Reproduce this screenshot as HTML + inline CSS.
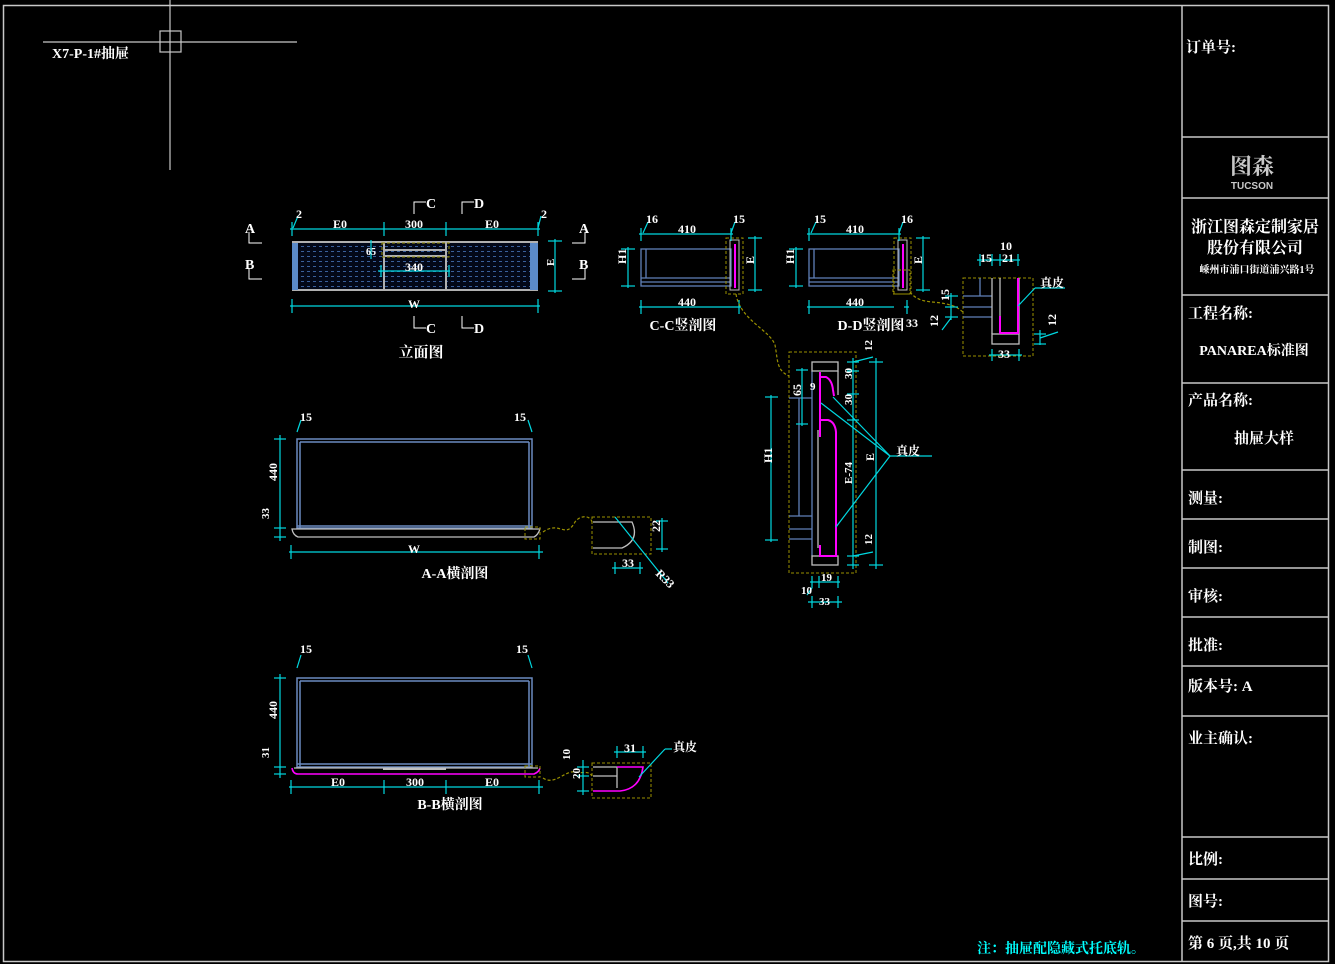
<!DOCTYPE html>
<html><head><meta charset="utf-8">
<style>
html,body{margin:0;padding:0;background:#000;}
svg{display:block}
text{font-family:"Liberation Serif","Noto Serif CJK SC",serif;font-weight:bold;fill:#fff}
.d{font-size:12px}
.c{fill:#00ffff}
</style></head><body>
<svg width="1335" height="964" viewBox="0 0 1335 964" xmlns="http://www.w3.org/2000/svg">
<rect width="1335" height="964" fill="#000"/>
<rect x="3.5" y="5.5" width="1325" height="956" fill="none" stroke="#c8c8c8" stroke-width="1.5"/>
<line x1="1182" y1="5" x2="1182" y2="961" stroke="#c8c8c8" stroke-width="1.5"/>
<g stroke="#c8c8c8" stroke-width="1.5">
<line x1="1182" y1="137" x2="1329" y2="137"/><line x1="1182" y1="198" x2="1329" y2="198"/>
<line x1="1182" y1="295" x2="1329" y2="295"/><line x1="1182" y1="383" x2="1329" y2="383"/>
<line x1="1182" y1="470" x2="1329" y2="470"/><line x1="1182" y1="519" x2="1329" y2="519"/>
<line x1="1182" y1="568" x2="1329" y2="568"/><line x1="1182" y1="617" x2="1329" y2="617"/>
<line x1="1182" y1="666" x2="1329" y2="666"/><line x1="1182" y1="716" x2="1329" y2="716"/>
<line x1="1182" y1="837" x2="1329" y2="837"/><line x1="1182" y1="879" x2="1329" y2="879"/>
<line x1="1182" y1="921" x2="1329" y2="921"/>
</g>
<g font-size="15">
<text x="1186" y="52">订单号:</text>
<text x="1252" y="174" text-anchor="middle" font-size="22" style="fill:#c8c8c8">图森</text>
<text x="1252" y="189" text-anchor="middle" font-size="10" style="fill:#c8c8c8;font-family:'Liberation Sans',sans-serif">TUCSON</text>
<text x="1255" y="232" text-anchor="middle" font-size="16">浙江图森定制家居</text>
<text x="1255" y="253" text-anchor="middle" font-size="16">股份有限公司</text>
<text x="1257" y="273" text-anchor="middle" font-size="10">嵊州市浦口街道浦兴路1号</text>
<text x="1188" y="318">工程名称:</text>
<text x="1254" y="355" text-anchor="middle" font-size="14">PANAREA标准图</text>
<text x="1188" y="405">产品名称:</text>
<text x="1264" y="443" text-anchor="middle">抽屉大样</text>
<text x="1188" y="503">测量:</text>
<text x="1188" y="552">制图:</text>
<text x="1188" y="601">审核:</text>
<text x="1188" y="650">批准:</text>
<text x="1188" y="691">版本号: A</text>
<text x="1188" y="743">业主确认:</text>
<text x="1188" y="864">比例:</text>
<text x="1188" y="906">图号:</text>
<text x="1188" y="948">第 6 页,共 10 页</text>
</g>
<text x="977" y="953" font-size="14" class="c">注：抽屉配隐藏式托底轨。</text>
<g stroke="#c8c8c8" stroke-width="1.2" fill="none">
<line x1="170" y1="0" x2="170" y2="170"/><line x1="43" y1="42" x2="297" y2="42"/>
<rect x="160" y="31" width="21" height="21"/>
</g>
<text x="52" y="58" font-size="14">X7-P-1#抽屉</text>

<defs>
<pattern id="dots" width="6" height="5" patternUnits="userSpaceOnUse">
<rect width="6" height="5" fill="#030818"/>
<rect x="1" y="1" width="3" height="1" fill="#3a5f9a"/>
</pattern>
</defs>

<rect x="292" y="241" width="246" height="50" fill="url(#dots)"/>
<g stroke="#b0b0b0" stroke-width="2" fill="none">
<line x1="292" y1="242" x2="538" y2="242"/><line x1="292" y1="290" x2="538" y2="290"/>
<line x1="384" y1="242" x2="384" y2="290"/><line x1="446" y1="242" x2="446" y2="290"/>
<line x1="384" y1="250" x2="446" y2="250"/><line x1="384" y1="256" x2="446" y2="256"/>
</g>
<rect x="292" y="243" width="6" height="47" fill="#5b8ac8"/>
<rect x="530" y="243" width="8" height="47" fill="#5b8ac8"/>
<rect x="382" y="243" width="67" height="14" fill="none" stroke="#9a9000" stroke-dasharray="3,2"/>
<g stroke="#00d8e0" stroke-width="1.2" fill="none">
<line x1="290" y1="229" x2="540" y2="229"/>
<line x1="292" y1="222" x2="292" y2="236"/><line x1="384" y1="222" x2="384" y2="236"/>
<line x1="446" y1="222" x2="446" y2="236"/><line x1="538" y1="222" x2="538" y2="236"/>
<line x1="290" y1="306" x2="540" y2="306"/><line x1="292" y1="299" x2="292" y2="313"/><line x1="538" y1="299" x2="538" y2="313"/>
<line x1="555" y1="239" x2="555" y2="293"/><line x1="548" y1="241" x2="562" y2="241"/><line x1="548" y1="291" x2="562" y2="291"/>
<line x1="378" y1="271" x2="450" y2="271"/><line x1="381" y1="265" x2="381" y2="277"/><line x1="449" y1="265" x2="449" y2="277"/>
<line x1="371" y1="240" x2="371" y2="259"/>
<line x1="293" y1="228" x2="298" y2="216"/><line x1="538" y1="228" x2="541" y2="216"/>
</g>
<g class="d">
<text x="296" y="218">2</text><text x="541" y="218">2</text>
<text x="340" y="228" text-anchor="middle">E0</text><text x="414" y="228" text-anchor="middle">300</text><text x="492" y="228" text-anchor="middle">E0</text>
<text x="414" y="271" text-anchor="middle">340</text>
<text x="414" y="308" text-anchor="middle">W</text>
<text x="366" y="255" font-size="10">65</text>
<text x="550" y="270" font-size="11" transform="rotate(-90 550 266)">E</text>
</g>
<g stroke="#fff" stroke-width="1" fill="none">
<polyline points="249,232 249,243 262,243"/><polyline points="249,268 249,279 262,279"/>
<polyline points="585,232 585,243 572,243"/><polyline points="585,268 585,279 572,279"/>
<polyline points="426,202 414,202 414,214"/><polyline points="474,202 462,202 462,214"/>
<polyline points="414,316 414,328 426,328"/><polyline points="462,316 462,328 474,328"/>
</g>
<g font-size="14">
<text x="245" y="233">A</text><text x="245" y="269">B</text>
<text x="579" y="233">A</text><text x="579" y="269">B</text>
<text x="426" y="208">C</text><text x="474" y="208">D</text>
<text x="426" y="333">C</text><text x="474" y="333">D</text>
<text x="421" y="357" text-anchor="middle" font-size="15">立面图</text>
</g>

<g id="cc">
<g stroke="#6080b8" stroke-width="1.3" fill="none">
<rect x="641" y="249" width="90" height="37"/>
<line x1="646" y1="249" x2="646" y2="278"/>
<line x1="641" y1="278" x2="731" y2="278"/><line x1="641" y1="282" x2="731" y2="282"/>
</g>
<rect x="730" y="240" width="9" height="50" fill="none" stroke="#c0c0c0"/>
<line x1="735" y1="244" x2="735" y2="288" stroke="#ff00ff" stroke-width="2"/>
<rect x="726" y="238" width="17" height="56" fill="none" stroke="#9a9000" stroke-dasharray="3,2"/>
<g stroke="#00d8e0" stroke-width="1.2" fill="none">
<line x1="639" y1="234" x2="733" y2="234"/><line x1="641" y1="228" x2="641" y2="241"/><line x1="731" y1="228" x2="731" y2="241"/>
<line x1="639" y1="307" x2="741" y2="307"/><line x1="641" y1="300" x2="641" y2="314"/><line x1="739" y1="300" x2="739" y2="314"/>
<line x1="628" y1="247" x2="628" y2="288"/><line x1="621" y1="249" x2="635" y2="249"/><line x1="621" y1="286" x2="635" y2="286"/>
<line x1="755" y1="236" x2="755" y2="292"/><line x1="748" y1="238" x2="762" y2="238"/><line x1="748" y1="290" x2="762" y2="290"/>
<line x1="643" y1="233" x2="648" y2="222"/><line x1="731" y1="233" x2="735" y2="222"/>
</g>
</g>
<use href="#cc" x="168" y="0"/>
<g class="d">
<text x="646" y="223">16</text><text x="733" y="223">15</text><text x="687" y="233" text-anchor="middle">410</text>
<text x="687" y="306" text-anchor="middle">440</text>
<text x="814" y="223">15</text><text x="901" y="223">16</text><text x="855" y="233" text-anchor="middle">410</text>
<text x="855" y="306" text-anchor="middle">440</text>
<text x="626" y="272" transform="rotate(-90 622 268)">H1</text>
<text x="794" y="272" transform="rotate(-90 790 268)">H1</text>
<text x="754" y="272" transform="rotate(-90 750 268)">E</text>
<text x="922" y="272" transform="rotate(-90 918 268)">E</text>
<text x="906" y="327">33</text>
</g>
<text x="683" y="330" text-anchor="middle" font-size="14">C-C竖剖图</text>
<text x="871" y="330" text-anchor="middle" font-size="14">D-D竖剖图</text>
<rect x="894" y="303" width="10" height="12" fill="#000"/>
<rect x="893" y="270" width="17" height="24" fill="none" stroke="#9a9000" stroke-dasharray="3,2"/>
<g stroke="#9a9000" stroke-dasharray="3,2" fill="none" stroke-width="1.2">
<path d="M736,294 C740,320 770,330 775,345 C778,360 776,370 789,376"/>
<path d="M910,292 C920,305 935,300 950,305 C958,307 960,310 963,312"/>
<path d="M543,532 C560,520 565,540 575,522 C580,515 590,515 592,522"/>
<path d="M543,778 C555,786 565,770 575,772 C583,774 588,770 592,776"/>
</g>

<rect x="963" y="278" width="70" height="78" fill="none" stroke="#9a9000" stroke-dasharray="3,2"/>
<g stroke="#6080b8" stroke-width="1.3"><line x1="980" y1="278" x2="980" y2="296"/>
<line x1="963" y1="296" x2="992" y2="296"/><line x1="963" y1="307" x2="992" y2="307"/><line x1="963" y1="317" x2="992" y2="317"/></g>
<g stroke="#c0c0c0" stroke-width="1.3" fill="none"><line x1="992" y1="278" x2="992" y2="334"/><line x1="1019" y1="278" x2="1019" y2="334"/>
<line x1="1000" y1="278" x2="1000" y2="318"/><rect x="992" y="334" width="27" height="10"/></g>
<polyline points="1000,316 1000,333 1018,333 1018,278" fill="none" stroke="#ff00ff" stroke-width="2"/>
<g stroke="#00d8e0" stroke-width="1.2" fill="none">
<line x1="977" y1="260" x2="1020" y2="260"/><line x1="980" y1="254" x2="980" y2="266"/><line x1="992" y1="254" x2="992" y2="266"/><line x1="1000" y1="254" x2="1000" y2="266"/><line x1="1018" y1="254" x2="1018" y2="266"/>
<line x1="989" y1="355" x2="1022" y2="355"/><line x1="992" y1="349" x2="992" y2="361"/><line x1="1019" y1="349" x2="1019" y2="361"/>
<line x1="1018" y1="306" x2="1035" y2="288"/><line x1="1035" y1="288" x2="1065" y2="288"/>
<line x1="951" y1="293" x2="951" y2="320"/><line x1="945" y1="296" x2="958" y2="296"/><line x1="945" y1="307" x2="958" y2="307"/><line x1="945" y1="317" x2="958" y2="317"/>
<line x1="951" y1="318" x2="942" y2="330"/>
<line x1="1040" y1="330" x2="1040" y2="345"/><line x1="1034" y1="334" x2="1046" y2="334"/><line x1="1034" y1="344" x2="1046" y2="344"/><line x1="1040" y1="338" x2="1058" y2="332"/>
</g>
<g class="d">
<text x="1000" y="250">10</text><text x="980" y="262">15</text><text x="1002" y="262">21</text>
<text x="998" y="358">33</text>
<text x="945" y="305" transform="rotate(-90 945 301)">15</text>
<text x="938" y="335" transform="rotate(-90 934 331)">12</text>
<text x="1056" y="334" transform="rotate(-90 1052 330)">12</text>
</g>
<text x="1040" y="287" font-size="12">真皮</text>

<rect x="789" y="352" width="67" height="221" fill="none" stroke="#9a9000" stroke-dasharray="3,2"/>
<g stroke="#6080b8" stroke-width="1.3" fill="none">
<line x1="812" y1="371" x2="812" y2="556"/><line x1="799" y1="398" x2="799" y2="516"/>
<line x1="789" y1="398" x2="812" y2="398"/><line x1="789" y1="516" x2="812" y2="516"/>
<line x1="789" y1="529" x2="812" y2="529"/><line x1="789" y1="539" x2="812" y2="539"/>
</g>
<g stroke="#c0c0c0" stroke-width="1.3" fill="none">
<rect x="812" y="362" width="26" height="9"/><rect x="812" y="556" width="26" height="9"/>
<line x1="838" y1="371" x2="838" y2="395"/><line x1="818" y1="430" x2="818" y2="548"/>
</g>
<g stroke="#ff00ff" stroke-width="2" fill="none">
<path d="M820,372 L820,437"/><path d="M820,377 L826,377 Q832,380 833,390 L834,396"/>
<path d="M820,437 L820,420 L828,420 Q835,422 836,432 L836,556 L820,556 L820,545"/>
</g>
<g stroke="#00d8e0" stroke-width="1.2" fill="none">
<line x1="771" y1="395" x2="771" y2="542"/><line x1="765" y1="397" x2="778" y2="397"/><line x1="765" y1="540" x2="778" y2="540"/>
<line x1="802" y1="368" x2="802" y2="426"/><line x1="796" y1="370" x2="808" y2="370"/><line x1="796" y1="424" x2="808" y2="424"/>
<line x1="853" y1="358" x2="853" y2="569"/>
<line x1="847" y1="362" x2="859" y2="362"/><line x1="847" y1="371" x2="859" y2="371"/><line x1="847" y1="394" x2="859" y2="394"/>
<line x1="847" y1="420" x2="859" y2="420"/><line x1="847" y1="556" x2="859" y2="556"/><line x1="847" y1="565" x2="859" y2="565"/>
<line x1="876" y1="358" x2="876" y2="569"/><line x1="869" y1="362" x2="883" y2="362"/><line x1="869" y1="565" x2="883" y2="565"/>
<line x1="853" y1="362" x2="873" y2="357"/><line x1="853" y1="556" x2="873" y2="552"/>
<line x1="833" y1="397" x2="890" y2="456"/><line x1="821" y1="403" x2="890" y2="456"/><line x1="836" y1="527" x2="890" y2="456"/>
<line x1="890" y1="456" x2="932" y2="456"/>
<line x1="810" y1="582" x2="840" y2="582"/><line x1="812" y1="576" x2="812" y2="588"/><line x1="819" y1="576" x2="819" y2="588"/><line x1="838" y1="576" x2="838" y2="588"/>
<line x1="808" y1="602" x2="842" y2="602"/><line x1="812" y1="596" x2="812" y2="608"/><line x1="838" y1="596" x2="838" y2="608"/>
<line x1="812" y1="588" x2="807" y2="595"/>
</g>
<g class="d">
<text x="772" y="471" transform="rotate(-90 768 467)">H1</text>
<text x="801" y="404" transform="rotate(-90 797 400)">65</text>
<text x="810" y="390" font-size="11">9</text>
<text x="852" y="387" transform="rotate(-90 848 383)" font-size="11">30</text>
<text x="852" y="413" transform="rotate(-90 848 409)" font-size="11">30</text>
<text x="852" y="492" transform="rotate(-90 848 488)" font-size="11">E-74</text>
<text x="874" y="469" transform="rotate(-90 870 465)">E</text>
<text x="872" y="359" transform="rotate(-90 868 355)" font-size="11">12</text>
<text x="872" y="553" transform="rotate(-90 868 549)" font-size="11">12</text>
<text x="821" y="581" font-size="11">19</text>
<text x="801" y="594" font-size="11">10</text>
<text x="819" y="605" font-size="11">33</text>
</g>
<text x="896" y="455" font-size="12">真皮</text>

<g stroke="#6a8ac0" stroke-width="1.5" fill="none">
<rect x="297" y="439" width="235" height="89"/>
<line x1="300" y1="442" x2="529" y2="442"/><line x1="300" y1="442" x2="300" y2="528"/><line x1="529" y1="442" x2="529" y2="528"/>
<line x1="297" y1="526" x2="532" y2="526"/>
</g>
<path d="M292,529 L540,529 Q538,535 534,537 L298,537 Q293,535 292,529 Z" fill="none" stroke="#c0c0c0" stroke-width="1.3"/>
<rect x="525" y="527" width="15" height="12" fill="none" stroke="#9a9000" stroke-dasharray="3,2"/>
<g stroke="#00d8e0" stroke-width="1.2" fill="none">
<line x1="280" y1="435" x2="280" y2="541"/><line x1="274" y1="439" x2="286" y2="439"/><line x1="274" y1="528" x2="286" y2="528"/><line x1="274" y1="537" x2="286" y2="537"/>
<line x1="289" y1="552" x2="543" y2="552"/><line x1="291" y1="545" x2="291" y2="559"/><line x1="539" y1="545" x2="539" y2="559"/>
<line x1="297" y1="432" x2="301" y2="420"/><line x1="532" y1="432" x2="528" y2="420"/>
</g>
<g class="d">
<text x="300" y="421">15</text><text x="514" y="421">15</text>
<text x="277" y="489" transform="rotate(-90 273 485)">440</text>
<text x="269" y="527" transform="rotate(-90 265 523)" font-size="11">33</text>
<text x="414" y="553" text-anchor="middle">W</text>
</g>
<text x="455" y="578" text-anchor="middle" font-size="14">A-A横剖图</text>
<rect x="592" y="517" width="59" height="37" fill="none" stroke="#9a9000" stroke-dasharray="3,2"/>
<path d="M593,522 L632,522 Q640,540 622,548 L593,548" fill="none" stroke="#c0c0c0" stroke-width="1.3"/>
<g stroke="#00d8e0" stroke-width="1.2" fill="none">
<line x1="615" y1="517" x2="668" y2="583"/>
<line x1="662" y1="518" x2="662" y2="552"/><line x1="656" y1="521" x2="668" y2="521"/><line x1="656" y1="549" x2="668" y2="549"/>
<line x1="612" y1="568" x2="643" y2="568"/><line x1="615" y1="562" x2="615" y2="574"/><line x1="640" y1="562" x2="640" y2="574"/>
</g>
<g class="d"><text x="622" y="567">33</text><text x="660" y="540" transform="rotate(-90 656 536)">22</text>
<text x="656" y="578" transform="rotate(45 660 575)">R33</text></g>

<g stroke="#6a8ac0" stroke-width="1.5" fill="none">
<rect x="297" y="678" width="235" height="89"/>
<line x1="300" y1="681" x2="529" y2="681"/><line x1="300" y1="681" x2="300" y2="767"/><line x1="529" y1="681" x2="529" y2="767"/>
<line x1="297" y1="764" x2="532" y2="764"/>
</g>
<path d="M294,768 L538,768" stroke="#c0c0c0" stroke-width="1.3"/>
<path d="M383,769 L446,769" stroke="#c0c0c0" stroke-width="2"/>
<path d="M292,768 Q293,774 298,774 L534,774 Q539,772 540,768" fill="none" stroke="#ff00ff" stroke-width="1.6"/>
<rect x="525" y="766" width="15" height="11" fill="none" stroke="#9a9000" stroke-dasharray="3,2"/>
<g stroke="#00d8e0" stroke-width="1.2" fill="none">
<line x1="280" y1="674" x2="280" y2="778"/><line x1="274" y1="678" x2="286" y2="678"/><line x1="274" y1="767" x2="286" y2="767"/><line x1="274" y1="774" x2="286" y2="774"/>
<line x1="289" y1="787" x2="543" y2="787"/><line x1="291" y1="780" x2="291" y2="794"/><line x1="384" y1="780" x2="384" y2="794"/><line x1="446" y1="780" x2="446" y2="794"/><line x1="539" y1="780" x2="539" y2="794"/>
<line x1="297" y1="668" x2="301" y2="655"/><line x1="532" y1="668" x2="528" y2="655"/>
</g>
<g class="d">
<text x="300" y="653">15</text><text x="516" y="653">15</text>
<text x="277" y="727" transform="rotate(-90 273 723)">440</text>
<text x="269" y="766" transform="rotate(-90 265 762)" font-size="11">31</text>
<text x="338" y="786" text-anchor="middle">E0</text><text x="415" y="786" text-anchor="middle">300</text><text x="492" y="786" text-anchor="middle">E0</text>
</g>
<text x="450" y="809" text-anchor="middle" font-size="14">B-B横剖图</text>
<rect x="592" y="763" width="59" height="35" fill="none" stroke="#9a9000" stroke-dasharray="3,2"/>
<g stroke="#c0c0c0" stroke-width="1.3" fill="none">
<line x1="593" y1="767" x2="617" y2="767"/><line x1="593" y1="776" x2="617" y2="776"/><line x1="617" y1="767" x2="617" y2="788"/>
</g>
<path d="M593,791 L620,791 Q640,789 643,767 L617,767" fill="none" stroke="#ff00ff" stroke-width="1.6"/>
<g stroke="#00d8e0" stroke-width="1.2" fill="none">
<line x1="614" y1="752" x2="646" y2="752"/><line x1="617" y1="746" x2="617" y2="758"/><line x1="643" y1="746" x2="643" y2="758"/>
<line x1="639" y1="777" x2="665" y2="749"/><line x1="665" y1="749" x2="672" y2="749"/>
<line x1="583" y1="760" x2="583" y2="795"/><line x1="577" y1="767" x2="589" y2="767"/><line x1="577" y1="776" x2="589" y2="776"/><line x1="577" y1="791" x2="589" y2="791"/>
</g>
<g class="d"><text x="624" y="752">31</text>
<text x="570" y="768" transform="rotate(-90 566 764)" font-size="11">10</text>
<text x="580" y="787" transform="rotate(-90 576 783)" font-size="11">20</text></g>
<text x="673" y="751" font-size="12">真皮</text>
</svg>
</body></html>
